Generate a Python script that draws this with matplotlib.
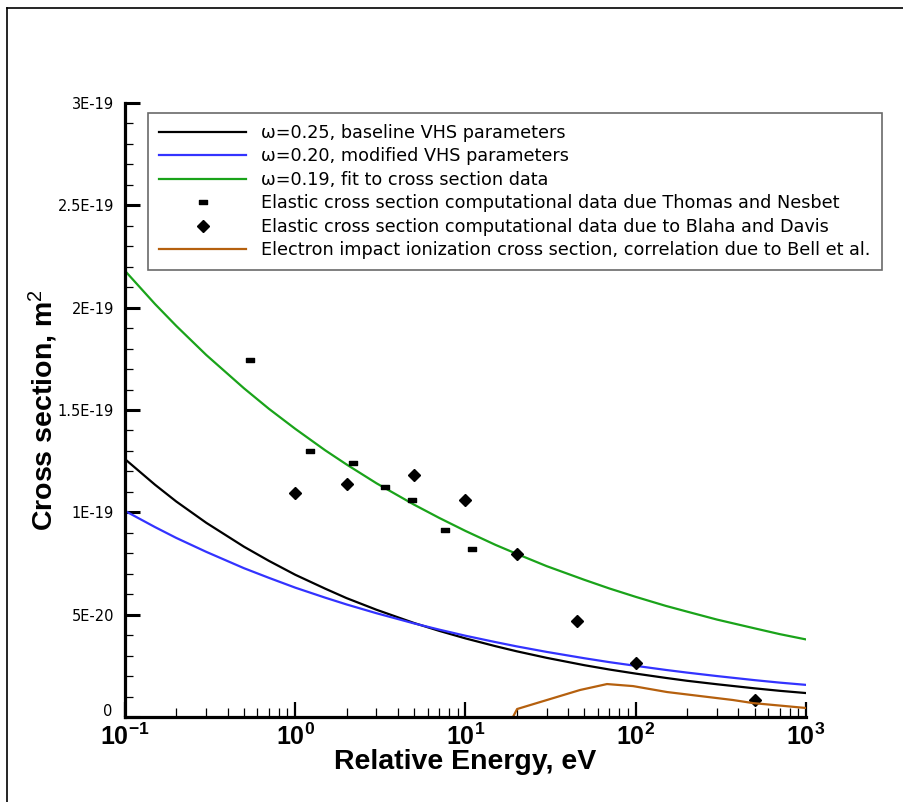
import numpy as np
import matplotlib
matplotlib.use("Agg")
import matplotlib.pyplot as plt
import matplotlib.transforms as mtransforms
from matplotlib.path import Path
from matplotlib.lines import Line2D
from matplotlib.ticker import FixedLocator, MultipleLocator, FuncFormatter

plt.rcParams['font.family'] = ['Liberation Sans', 'DejaVu Sans']
plt.rcParams['mathtext.fontset'] = 'custom'
plt.rcParams['mathtext.rm'] = 'Liberation Sans'
plt.rcParams['mathtext.bf'] = 'Liberation Sans:bold'
plt.rcParams['mathtext.it'] = 'Liberation Sans:italic'

# ---- data (cross sections in units of 1e-20 m^2) ----
energy_curve = [0.1, 0.15, 0.2, 0.3, 0.5, 0.7, 1, 1.5, 2, 3, 5, 7, 10, 15, 20, 30,
                50, 70, 100, 150, 200, 300, 500, 700, 1000]
sigma_w025 = [12.6, 11.35, 10.53, 9.49, 8.32, 7.63, 6.95, 6.27, 5.81, 5.24, 4.59, 4.21,
              3.84, 3.46, 3.21, 2.89, 2.53, 2.32, 2.12, 1.91, 1.77, 1.60, 1.40, 1.28, 1.17]
sigma_w020 = [10.07, 9.28, 8.75, 8.07, 7.27, 6.80, 6.32, 5.83, 5.50, 5.07, 4.57, 4.27,
              3.97, 3.66, 3.45, 3.18, 2.87, 2.68, 2.50, 2.30, 2.17, 2.00, 1.80, 1.68, 1.57]
sigma_w019 = [21.8, 20.18, 19.11, 17.69, 16.06, 15.06, 14.08, 13.03, 12.34, 11.42, 10.37,
              9.73, 9.09, 8.41, 7.97, 7.37, 6.70, 6.28, 5.87, 5.43, 5.15, 4.76, 4.33, 4.05, 3.79]

energy_thomas = [0.54, 1.22, 2.17, 3.37, 4.83, 7.61, 10.9]
sigma_thomas = [17.44, 13.01, 12.43, 11.24, 10.60, 9.15, 8.21]

energy_blaha = [1, 2, 5, 10, 20, 45, 100, 500]
sigma_blaha = [10.94, 11.40, 11.84, 10.59, 7.98, 4.71, 2.65, 0.83]

energy_ion = [19.0, 20.1, 47.1, 67.8, 96.4, 152.6, 372, 488, 1000]
sigma_ion = [0.0, 0.39, 1.32, 1.61, 1.51, 1.22, 0.83, 0.68, 0.44]

labels = [
    "\u03c9=0.25, baseline VHS parameters",
    "\u03c9=0.20, modified VHS parameters",
    "\u03c9=0.19, fit to cross section data",
    "Elastic cross section computational data due Thomas and Nesbet",
    "Elastic cross section computational data due to Blaha and Davis",
    "Electron impact ionization cross section, correlation due to Bell et al.",
]
ytick_vals = [0, 5e-20, 1e-19, 1.5e-19, 2e-19, 2.5e-19, 3e-19]
ytick_labels = ["0", "5E-20", "1E-19", "1.5E-19", "2E-19", "2.5E-19", "3E-19"]

scale = 1e-20
brown = "#b5600e"

fig = plt.figure(figsize=(9.04, 8.02), dpi=100)
ax = fig.add_axes([125/904, 1-717/802, (806-125)/904, (717-103)/802])

# frame lines around figure (partial)
fig.add_artist(Line2D([7/904, 7/904], [0, 1-8/802], transform=fig.transFigure, color='black', lw=1.2))
fig.add_artist(Line2D([7/904, 1], [1-8/802, 1-8/802], transform=fig.transFigure, color='black', lw=1.2))

rect = Path([(-1, -0.55), (1, -0.55), (1, 0.55), (-1, 0.55), (-1, -0.55)],
            [Path.MOVETO, Path.LINETO, Path.LINETO, Path.LINETO, Path.CLOSEPOLY])

h1, = ax.plot(energy_curve, np.array(sigma_w025)*scale, color='black', lw=1.6)
h2, = ax.plot(energy_curve, np.array(sigma_w020)*scale, color='#3333ff', lw=1.6)
h3, = ax.plot(energy_curve, np.array(sigma_w019)*scale, color='#1aa31a', lw=1.6)
h4, = ax.plot(energy_thomas, np.array(sigma_thomas)*scale, ls='none', marker=rect,
              color='black', ms=5.8)
h5, = ax.plot(energy_blaha, np.array(sigma_blaha)*scale, ls='none', marker='D',
              color='black', ms=6.2)
h6, = ax.plot(energy_ion, np.array(sigma_ion)*scale, color=brown, lw=1.6)

ax.set_xscale('log')
ax.set_xlim(0.1, 1000)
ax.set_ylim(0, 3e-19)

for s in ['top', 'right']:
    ax.spines[s].set_visible(False)
for s in ['left', 'bottom']:
    ax.spines[s].set_linewidth(2.3)

ax.yaxis.set_major_locator(FixedLocator(ytick_vals))
ax.set_yticklabels(ytick_labels, fontsize=10.5, family='DejaVu Sans')
ax.yaxis.set_minor_locator(MultipleLocator(1e-20))
ax.tick_params(axis='y', which='major', direction='in', length=11, width=2.2, pad=8)
ax.tick_params(axis='y', which='minor', direction='in', length=6, width=0.9)
ax.tick_params(axis='x', which='major', direction='in', length=11, width=1.6, labelsize=18, pad=5)
ax.tick_params(axis='x', which='minor', direction='in', length=6.5, width=0.9)
ax.xaxis.set_major_formatter(FuncFormatter(
    lambda v, p: r"$\mathbf{10^{%d}}$" % round(np.log10(v))))

# nudge the "0" label up slightly so it does not collide with 10^-1
zero_label = ax.get_yticklabels()[0]
zero_label.set_transform(zero_label.get_transform() +
                         mtransforms.ScaledTranslation(-2/100, 7/100, fig.dpi_scale_trans))

ax.set_xlabel("Relative Energy, eV", fontsize=20.5, fontweight='bold')
ax.xaxis.set_label_coords(0.5, -0.052)
ax.set_ylabel(r"Cross section, m$^2$", fontsize=20.5, fontweight='bold')
ax.yaxis.set_label_coords((60-125)/681, 0.5)

leg = ax.legend([h1, h2, h3, h4, h5, h6], labels, loc='upper left',
                bbox_to_anchor=((148-125)/681, 1-(113-103)/614),
                prop={'family': 'DejaVu Sans', 'size': 12.7},
                frameon=True, fancybox=False, edgecolor='#444444', handlelength=4.95,
                handletextpad=0.85, borderpad=0.62, labelspacing=0.31, borderaxespad=0)
leg.get_frame().set_linewidth(1.2)

fig.savefig("out.png", dpi=100)
